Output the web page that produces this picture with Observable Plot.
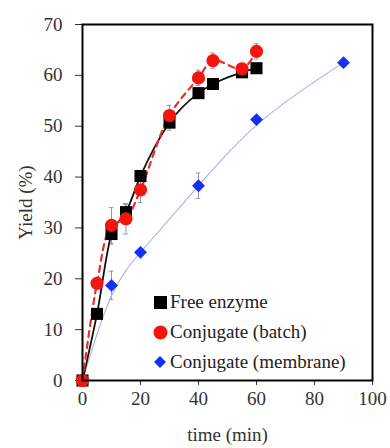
<!DOCTYPE html>
<html><head><meta charset="utf-8">
<script src="https://cdn.jsdelivr.net/npm/d3@7"></script>
<script src="https://cdn.jsdelivr.net/npm/@observablehq/plot@0.6"></script>
<style>
html,body{margin:0;padding:0;background:#fff;}
#wrap{position:relative;width:390px;height:448px;font-family:"Liberation Serif","Times New Roman",serif;}
#legend{position:absolute;left:152px;top:287px;font-family:"Liberation Serif","Times New Roman",serif;font-size:19px;color:#222;line-height:30px;}
#legend div{display:flex;align-items:center;white-space:nowrap;}
#legend span.sym{width:16px;display:flex;justify-content:center;align-items:center;margin-right:2px;}
</style></head>
<body><div id="wrap"><div id="legend"></div></div>
<script>
const seriesNames = ["Free enzyme", "Conjugate (batch)", "Conjugate (membrane)"];
const freeTime = [0, 5, 10, 15, 20, 30, 40, 45, 55, 60];
const freeYield = [0, 13.1, 28.8, 33.1, 40.2, 50.7, 56.5, 58.3, 60.6, 61.4];
const freeErr = [0, 0.5, 2, 1.5, 1, 1.5, 1, 1, 1, 1];
const batchTime = [0, 5, 10, 15, 20, 30, 40, 45, 55, 60];
const batchYield = [0, 19.1, 30.5, 31.8, 37.5, 52.1, 59.5, 62.9, 61.3, 64.7];
const batchErr = [0, 0.5, 3.5, 3, 2.5, 2, 1.5, 1.5, 1, 1.5];
const membTime = [0, 10, 20, 40, 60, 90];
const membYield = [0, 18.7, 25.2, 38.3, 51.3, 62.5];
const membErr = [0, 2.8, 0.5, 2.5, 0.5, 0.5];
const xTicks = [0, 20, 40, 60, 80, 100];
const yTicks = [0, 10, 20, 30, 40, 50, 60, 70];

const mk = (t, y, e) => t.map((d, i) => ({t: d, y: y[i], e: e[i]}));
const free = mk(freeTime, freeYield, freeErr);
const batch = mk(batchTime, batchYield, batchErr);
const memb = mk(membTime, membYield, membErr);
const all = [...free, ...batch, ...memb].filter(d => d.e > 0);

const chart = Plot.plot({
  width: 390, height: 448,
  marginLeft: 82, marginRight: 18, marginTop: 24, marginBottom: 68,
  style: {fontFamily: '"Liberation Serif","Times New Roman",serif', fontSize: "19px", color: "#333", background: "#fff"},
  x: {domain: [0, 100], ticks: xTicks, tickSize: 5, tickPadding: 6, label: "time (min)", labelAnchor: "center", labelOffset: 60, labelArrow: "none"},
  y: {domain: [0, 70], ticks: yTicks, tickSize: 7, tickPadding: 13, label: "Yield (%)", labelAnchor: "center", labelOffset: 64, labelArrow: "none"},
  marks: [
    Plot.ruleX(all, {x: "t", y1: d => d.y - d.e, y2: d => d.y + d.e, stroke: "#999", strokeWidth: 1}),
    Plot.ruleY(all, {y: d => d.y + d.e, x1: d => d.t - 0.8, x2: d => d.t + 0.8, stroke: "#999", strokeWidth: 1}),
    Plot.ruleY(all, {y: d => d.y - d.e, x1: d => d.t - 0.8, x2: d => d.t + 0.8, stroke: "#999", strokeWidth: 1}),
    Plot.line(memb, {x: "t", y: "y", curve: "basis", stroke: "#a8b0ea", strokeWidth: 1.1}),
    Plot.line(free, {x: "t", y: "y", curve: "monotone-x", stroke: "#111", strokeWidth: 1.8}),
    Plot.line(batch, {x: "t", y: "y", curve: "catmull-rom", stroke: "#ee2a2a", strokeWidth: 2.2, strokeDasharray: "6,5"}),
    Plot.dot(memb, {x: "t", y: "y", symbol: "diamond2", r: 5.8, fill: "#1530f5", stroke: "none"}),
    Plot.dot(free, {x: "t", y: "y", symbol: "square", r: 6.8, fill: "#000", stroke: "none"}),
    Plot.dot(batch, {x: "t", y: "y", symbol: "circle", r: 6.6, fill: "#f5150f", stroke: "none"}),
    Plot.frame({stroke: "#000", strokeWidth: 2})
  ]
});
document.getElementById("wrap").prepend(chart);

const syms = [
  '<svg width="13" height="13"><rect x="0" y="0" width="13" height="13" fill="#000"/></svg>',
  '<svg width="15" height="15"><circle cx="7.5" cy="7.5" r="7" fill="#f5150f"/></svg>',
  '<svg width="12" height="12"><path d="M6 0L12 6L6 12L0 6Z" fill="#1530f5"/></svg>'
];
const lg = document.getElementById("legend");
seriesNames.forEach((n, i) => {
  const row = document.createElement("div");
  row.innerHTML = '<span class="sym">' + syms[i] + '</span><span>' + n + '</span>';
  lg.appendChild(row);
});
</script></body></html>
